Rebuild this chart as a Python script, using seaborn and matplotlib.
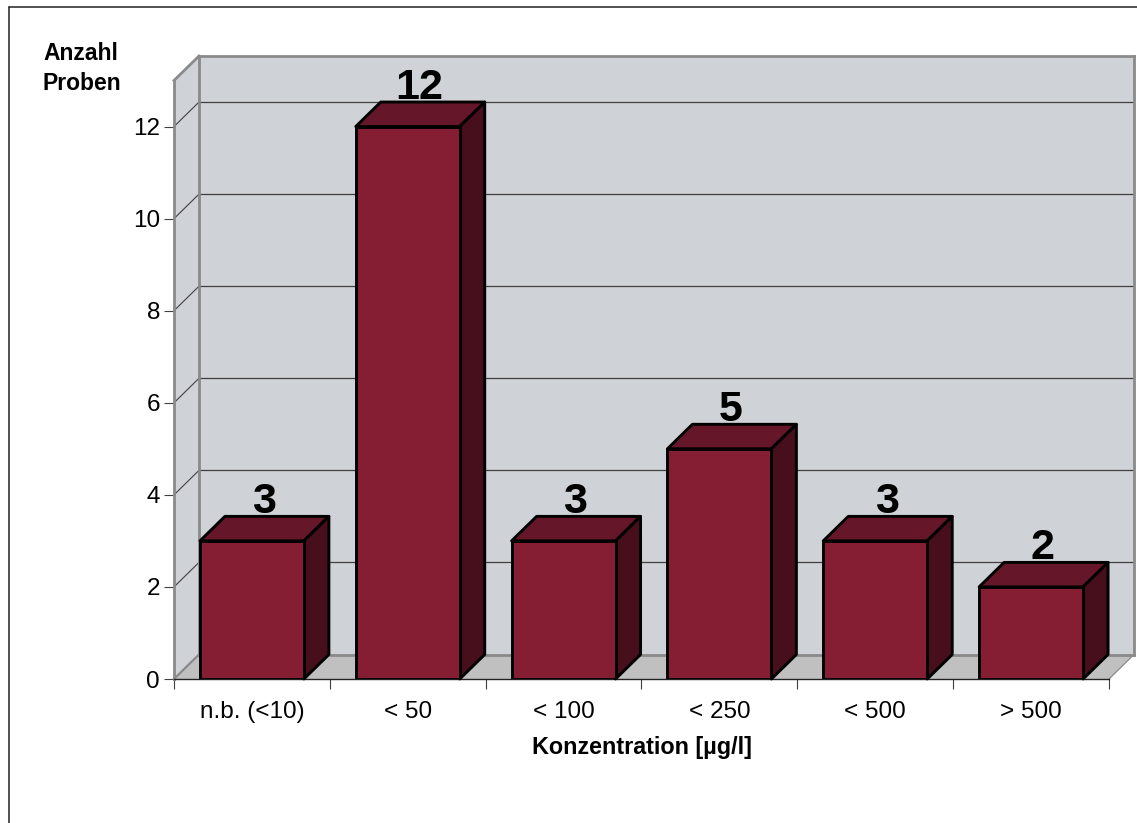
import matplotlib
matplotlib.use("Agg")
import matplotlib.pyplot as plt
from matplotlib.lines import Line2D
from matplotlib.patches import Polygon
import pandas as pd
import seaborn as sns

# Werte aus dem Diagramm
kategorien = ["n.b. (<10)", "< 50", "< 100", "< 250", "< 500", "> 500"]
anzahl = [3, 12, 3, 5, 3, 2]
y_ticks = [0, 2, 4, 6, 8, 10, 12]
y_max = 13

# Farben
FRONT = "#861e33"
TOP = "#651628"
SIDE = "#470f1c"
WALL = "#cfd2d6"
FLOOR = "#c0c0c0"
EDGE = "#8a8a8a"
GRID = "#404040"

W, H = 1137, 823
sns.set_theme(style="white")
plt.rcParams["font.family"] = ["Liberation Sans", "DejaVu Sans"]

df = pd.DataFrame({"kategorie": kategorien, "anzahl": anzahl})

fig = plt.figure(figsize=(W / 100, H / 100), dpi=100, facecolor="white")
# Vorderkante der Grundflaeche in Pixeln
left, right, bottom, top = 174, 1109, 679, 80.5
ax = fig.add_axes([left / W, 1 - bottom / H, (right - left) / W, (bottom - top) / H])

sns.barplot(data=df, x="kategorie", y="anzahl", color=FRONT, saturation=1,
            width=0.667, edgecolor="black", linewidth=2.1, ax=ax, zorder=5)
ax.set_xlim(-0.5, 5.5)
ax.set_ylim(0, y_max)
ax.patch.set_alpha(0)
for s in ax.spines.values():
    s.set_visible(False)

# Tiefe der 3D-Darstellung in Datenkoordinaten
dx = 25 / ((right - left) / len(kategorien))
dy = 24.5 / ((bottom - top) / y_max)
x0, x1 = ax.get_xlim()


def flaeche(pts, fc, ec="none", lw=0, z=1):
    ax.add_patch(Polygon(pts, closed=True, fc=fc, ec=ec, lw=lw, zorder=z,
                         clip_on=False, joinstyle="round"))


def linie(xs, ys, color=EDGE, lw=2.0, z=2):
    ax.add_line(Line2D(xs, ys, color=color, lw=lw, zorder=z, clip_on=False,
                       solid_capstyle="projecting"))


# Rueckwand, Seitenwand, Boden
flaeche([(x0 + dx, dy), (x1 + dx, dy), (x1 + dx, y_max + dy), (x0 + dx, y_max + dy)], WALL)
flaeche([(x0, 0), (x0 + dx, dy), (x0 + dx, y_max + dy), (x0, y_max)], WALL)
flaeche([(x0, 0), (x1, 0), (x1 + dx, dy), (x0 + dx, dy)], FLOOR)

for t in y_ticks[1:]:
    linie([x0 + dx, x1 + dx], [t + dy, t + dy], color=GRID, lw=0.9)
    linie([x0, x0 + dx], [t, t + dy], color=GRID, lw=0.8)

linie([x0 + dx, x0 + dx], [dy, y_max + dy])
linie([x0 + dx, x1 + dx], [y_max + dy, y_max + dy])
linie([x1 + dx, x1 + dx], [dy, y_max + dy])
linie([x0 + dx, x1 + dx], [dy, dy])
linie([x0, x0], [0, y_max])
linie([x0, x0 + dx], [y_max, y_max + dy])
linie([x0, x0 + dx], [0, dy], lw=1.6)
linie([x1, x1 + dx], [0, dy], lw=0.9)
linie([x0, x1], [0, 0], color="#222222", lw=1.0, z=3)

# Quader aus den Balken von seaborn
for bar, wert in zip(ax.patches[:len(anzahl)], anzahl):
    xa = bar.get_x()
    xb = xa + bar.get_width()
    h = bar.get_height()
    flaeche([(xa, h), (xb, h), (xb + dx, h + dy), (xa + dx, h + dy)], TOP, "black", 2.1, 4)
    flaeche([(xb, 0), (xb + dx, dy), (xb + dx, h + dy), (xb, h)], SIDE, "black", 2.1, 4)
    ax.text((xa + xb + dx) / 2 - 0.005, h + dy + 0.07, str(wert), ha="center", va="baseline",
            fontsize=31, fontweight="bold", color="black", zorder=6)

# Achsen
ax.set_yticks(y_ticks)
ax.tick_params(axis="y", left=True, length=7, width=0.8, color=GRID, pad=3,
               labelsize=17.5, labelcolor="black")
ax.set_xticks(range(len(kategorien)), kategorien)
ax.set_xticks([i - 0.5 for i in range(len(kategorien) + 1)], minor=True)
ax.tick_params(axis="x", which="major", bottom=False, pad=10, labelsize=17.5, labelcolor="black")
ax.tick_params(axis="x", which="minor", bottom=True, length=7, width=0.8, color=GRID)
ax.set_ylabel("")
ax.set_xlabel("Konzentration [µg/l]", fontsize=16.8, fontweight="bold", color="black", labelpad=9)

fig.text(43 / W, 1 - 54 / H, "Anzahl", fontsize=16.5, fontweight="bold", va="center", ha="left", color="black")
fig.text(43 / W, 1 - 84 / H, "Proben", fontsize=16.5, fontweight="bold", va="center", ha="left", color="black")

# Rahmen nur links und oben sichtbar
fig.add_artist(Line2D([8.5 / W, 8.5 / W], [0, 1 - 7 / H], color="#222222", lw=1.1))
fig.add_artist(Line2D([8.5 / W, 1], [1 - 7 / H, 1 - 7 / H], color="#222222", lw=1.1))

fig.savefig("out.png", dpi=100)
